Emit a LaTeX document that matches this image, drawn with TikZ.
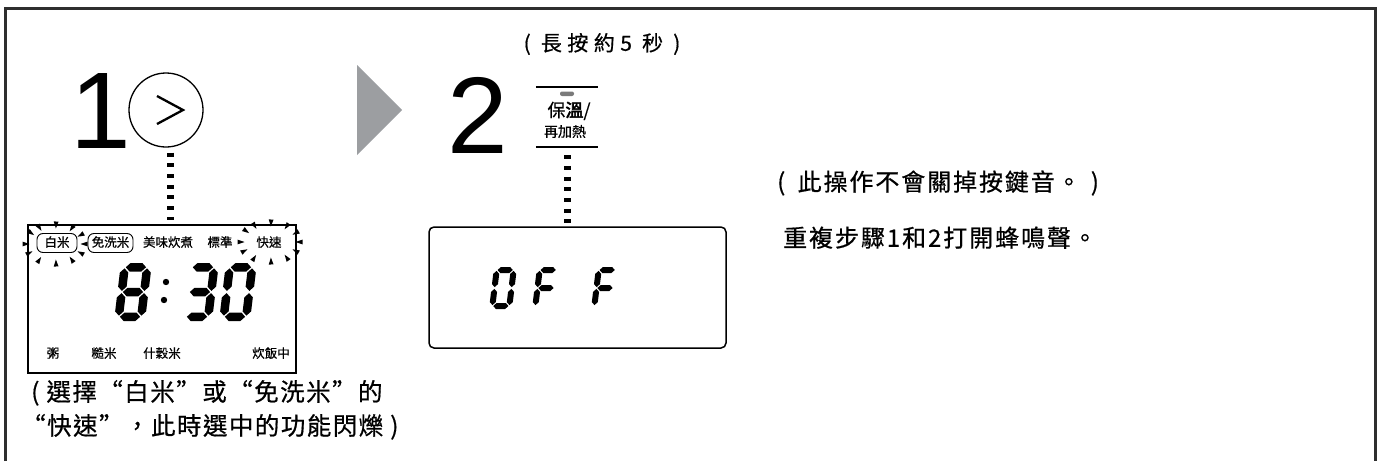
\documentclass[tikz,border=0pt]{standalone}
\usepackage{fontspec}
\setmainfont{Liberation Sans}
\newfontfamily\cjk[FakeBold=0.6]{Noto Sans CJK TC}
\newfontfamily\cjkb[FakeBold=3]{Noto Sans CJK TC}
\newfontfamily\cjkw[LetterSpace=8,FakeBold=0.6]{Noto Sans CJK TC}
\newfontfamily\cjkt[LetterSpace=26,FakeBold=0.6]{Noto Sans CJK TC}
\newfontfamily\cjkc[LetterSpace=6,FakeBold=0.6]{Noto Sans CJK TC}
\definecolor{framegray}{HTML}{2E2E2E}
\definecolor{arrowgray}{HTML}{9C9EA1}
\definecolor{ledgray}{HTML}{7A7A7A}

\newcommand{\SegH}[4]{\fill ({(#1)},{(#3)}) -- ({(#1)+(#4)/2},{(#3)-(#4)/2}) -- ({(#2)-(#4)/2},{(#3)-(#4)/2}) -- ({(#2)},{(#3)}) -- ({(#2)-(#4)/2},{(#3)+(#4)/2}) -- ({(#1)+(#4)/2},{(#3)+(#4)/2}) -- cycle;}
\newcommand{\SegV}[4]{\fill ({(#1)},{(#2)}) -- ({(#1)+(#4)/2},{(#2)+(#4)/2}) -- ({(#1)+(#4)/2},{(#3)-(#4)/2}) -- ({(#1)},{(#3)}) -- ({(#1)-(#4)/2},{(#3)-(#4)/2}) -- ({(#1)-(#4)/2},{(#2)+(#4)/2}) -- cycle;}
\newcommand{\SgA}{\SegH{\dT/2+\dG}{\dW-\dT/2-\dG}{-\dH+\dT/2}{\dT}}
\newcommand{\SgG}{\SegH{\dT/2+\dG}{\dW-\dT/2-\dG}{-\dH/2}{\dT}}
\newcommand{\SgD}{\SegH{\dT/2+\dG}{\dW-\dT/2-\dG}{-\dT/2}{\dT}}
\newcommand{\SgF}{\SegV{\dT/2}{-\dH+\dT/2+\dG}{-\dH/2-\dG}{\dT}}
\newcommand{\SgE}{\SegV{\dT/2}{-\dH/2+\dG}{-\dT/2-\dG}{\dT}}
\newcommand{\SgB}{\SegV{\dW-\dT/2}{-\dH+\dT/2+\dG}{-\dH/2-\dG}{\dT}}
\newcommand{\SgC}{\SegV{\dW-\dT/2}{-\dH/2+\dG}{-\dT/2-\dG}{\dT}}
\newcommand{\Flash}[2]{\foreach \fa in {0,28,55,88,122,145,180,208,237,272,305,332} {\fill[shift={({#1+29*cos(\fa)},{#2-19*sin(\fa)})}, rotate=\fa] (-3.5,0) -- (3.5,-2.4) -- (3.5,2.4) -- cycle;}}

\tikzset{
  cjktext/.style={inner sep=0pt, text height=0.88em, text depth=0.12em},
  lbl/.style={cjktext, font=\cjk\fontsize{12.5}{12.5}\selectfont},
  lblbox/.style={lbl, draw, line width=0.9pt, rounded corners=6pt, minimum height=19pt},
  dotline/.style={line width=7pt, dash pattern=on 4pt off 6.7pt},
  bigdigit/.style={inner sep=0pt, anchor=base, font=\fontsize{109}{109}\selectfont},
}

\begin{document}
\begin{tikzpicture}[x=1pt, y=-1pt]
\useasboundingbox (0,0) rectangle (1382,461);
% frame
\draw[framegray, line width=3pt] (5,461) -- (5,8) -- (1375,8) -- (1375,461);

% step 1
\node[bigdigit] (n1) at (101,148) {1};
\node[circle, draw, line width=1.3pt, minimum size=74pt, inner sep=0pt] (c1) at (166,110) {};
\draw[line width=2.3pt] (157,96) -- (183,110) -- (157,124);

\node[draw, line width=1.3pt, minimum width=268pt, minimum height=148pt, inner sep=0pt] (lcd1) at (162,299) {};
\coordinate (d1top) at ([xshift=4pt,yshift=-5pt]c1.south);
\coordinate (d1bot) at (d1top |- lcd1.north);
\draw[dotline, shorten >=4pt] (d1top) -- (d1bot);

\node[lblbox, minimum width=40pt] (bm) at (57,243) {白米};
\node[lblbox, minimum width=45pt] (mx) at (110.5,243) {免洗米};
\node[lbl] (mw) at (168,243) {美味炊煮};
\node[lbl] (bz) at (220,243) {標準};
\node[lbl] (ks) at (269,243) {快速};
\Flash{55}{244}
\Flash{270}{242}

\def\dW{31}\def\dH{58}\def\dT{8.5}\def\dG{1.1}
\begin{scope}[shift={(114,321)}, xslant=0.12] \SgA\SgB\SgC\SgD\SgE\SgF\SgG \end{scope}
\begin{scope}[shift={(181,321)}, xslant=0.12] \SgA\SgB\SgC\SgD\SgG \end{scope}
\begin{scope}[shift={(219,321)}, xslant=0.12] \SgA\SgB\SgC\SgD\SgE\SgF \end{scope}
\fill (166,282) circle (3.2);
\fill (164,300) circle (3.2);

\node[lbl] (zhou) at (53,354) {粥};
\node[lbl] (cm) at (104,354) {糙米};
\node[lbl] (sgm) at (162,354) {什穀米};
\node[lbl] (cfz) at (271,354) {炊飯中};

\node[cjktext, anchor=west, font=\cjkc\fontsize{24.5}{24.5}\selectfont] (cap1) at (31,397) {( 選擇“白米”或“免洗米”的};
\node[cjktext, anchor=west, font=\cjkc\fontsize{24.5}{24.5}\selectfont] (cap2) at (21,431) {“快速”，此時選中的功能閃爍 )};

% arrow
\fill[arrowgray] (357,65) -- (402,110) -- (357,155) -- cycle;

% step 2
\node[bigdigit] (n2) at (478,153) {2};
\node[cjktext, font=\cjkt\fontsize{21}{21}\selectfont] (hold) at (602,47) {( 長按約5 秒 )};
\node[minimum width=62pt, minimum height=60pt, inner sep=0pt] (btn) at (567,117) {};
\draw[line width=2pt] (btn.north west) -- (btn.north east);
\draw[line width=2pt] (btn.south west) -- (btn.south east);
\fill[ledgray, rounded corners=2pt] (560,91.5) rectangle (574,96);
\node[cjktext, font=\cjk\fontsize{18}{18}\selectfont] (bw) at (569,113) {保{\cjkb 溫}/};
\node[cjktext, font=\cjk\fontsize{14}{14}\selectfont] (zj) at (565,133) {再加熱};

\node[draw, line width=1.5pt, rounded corners=5pt, minimum width=297pt, minimum height=121pt, inner sep=0pt] (lcd2) at (577.5,287.5) {};
\coordinate (d2top) at ([yshift=-8pt]btn.south);
\coordinate (d2bot) at (d2top |- lcd2.north);
\draw[dotline, shorten >=3pt] (d2top) -- (d2bot);

\def\dW{23}\def\dH{42}\def\dT{6}\def\dG{0.9}
\begin{scope}[shift={(489,309)}, xslant=0.12] \SgA\SgB\SgC\SgD\SgE\SgF \end{scope}
\begin{scope}[shift={(532,309)}, xslant=0.12] \SgA\SgE\SgF\SgG \end{scope}
\begin{scope}[shift={(591,309)}, xslant=0.12] \SgA\SgE\SgF\SgG \end{scope}

% right texts
\node[cjktext, anchor=west, font=\cjkw\fontsize{24}{24}\selectfont] (note) at (777,187) {(\hspace{5pt} 此操作不會關掉按鍵音。\hspace{10pt})};
\node[cjktext, anchor=west, font=\cjkw\fontsize{24}{24}\selectfont] (rep) at (783,243) {重複步驟1和2打開蜂鳴聲。};
\end{tikzpicture}
\end{document}
